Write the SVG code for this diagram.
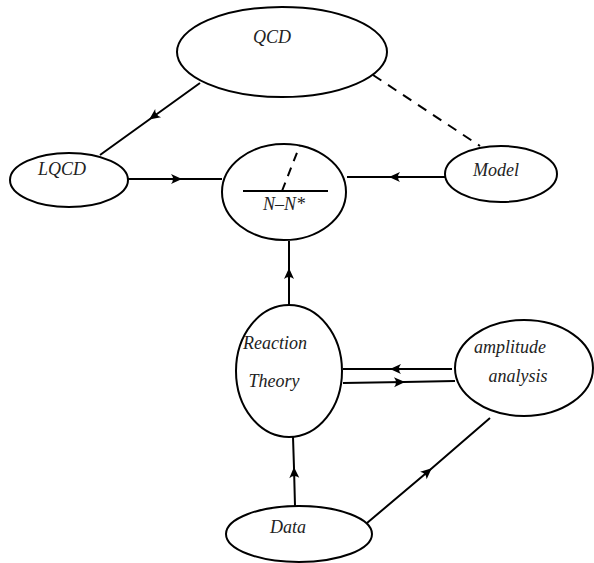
<svg xmlns="http://www.w3.org/2000/svg" width="594" height="563" viewBox="0 0 594 563">
<style>
.n{fill:#fff;stroke:#000;stroke-width:2}
.t{font-family:"Liberation Serif","Times New Roman",serif;font-style:italic;font-size:18px;fill:#222}
.c{fill:none;stroke:#000;stroke-width:2}
.d{stroke-dasharray:10,8}
</style>
<defs>
<marker id="ah" markerUnits="userSpaceOnUse" markerWidth="14" markerHeight="12" viewBox="-12 -6 14 12" refX="0" refY="0" orient="auto">
<path d="M1,0 L-10,-5 Q-6,0 -10,5 Z" fill="#000"/>
</marker>
</defs>
<rect width="594" height="563" fill="#fff"/>
<g id="connectors">
<path class="c" d="M200,83 L150,119 L100,155" marker-mid="url(#ah)"/>
<path class="c d" d="M373,75 L480,146"/>
<path class="c" d="M128,179 L181,179 L222,179" marker-mid="url(#ah)"/>
<path class="c" d="M445,177 L390,177 L347,177" marker-mid="url(#ah)"/>
<path class="c" d="M289,305 L289,269 L289,241" marker-mid="url(#ah)"/>
<path class="c" d="M452,369 L391,369 L343,369" marker-mid="url(#ah)"/>
<path class="c" d="M343,383 L404,382 L455,381" marker-mid="url(#ah)"/>
<path class="c" d="M295,506 L294,468 L293,437" marker-mid="url(#ah)"/>
<path class="c" d="M367,523 L431,469 L490,418" marker-mid="url(#ah)"/>
</g>
<g id="qcd">
<ellipse class="n" cx="282" cy="52" rx="105" ry="45"/>
<text class="t" x="272" y="43" text-anchor="middle">QCD</text>
</g>
<g id="lqcd">
<ellipse class="n" cx="69" cy="180" rx="59" ry="27"/>
<text class="t" x="62" y="175" text-anchor="middle">LQCD</text>
</g>
<g id="nnstar">
<ellipse class="n" cx="284" cy="192" rx="62" ry="48"/>
<line class="c" x1="243" y1="191" x2="328" y2="191"/>
<line class="c" x1="282" y1="191" x2="300" y2="145" stroke-dasharray="9,7"/>
<text class="t" x="284" y="210" text-anchor="middle">N–N*</text>
</g>
<g id="model">
<ellipse class="n" cx="501" cy="174" rx="56" ry="28"/>
<text class="t" x="496" y="176" text-anchor="middle">Model</text>
</g>
<g id="reaction">
<ellipse class="n" cx="289" cy="371" rx="53" ry="66"/>
<text class="t" x="275" y="349" text-anchor="middle">Reaction</text>
<text class="t" x="274" y="387" text-anchor="middle">Theory</text>
</g>
<g id="amplitude">
<ellipse class="n" cx="524" cy="368" rx="69" ry="48"/>
<text class="t" x="510" y="353" text-anchor="middle">amplitude</text>
<text class="t" x="518" y="382" text-anchor="middle">analysis</text>
</g>
<g id="data">
<ellipse class="n" cx="299" cy="534" rx="73" ry="28"/>
<text class="t" x="288" y="533" text-anchor="middle">Data</text>
</g>
</svg>
